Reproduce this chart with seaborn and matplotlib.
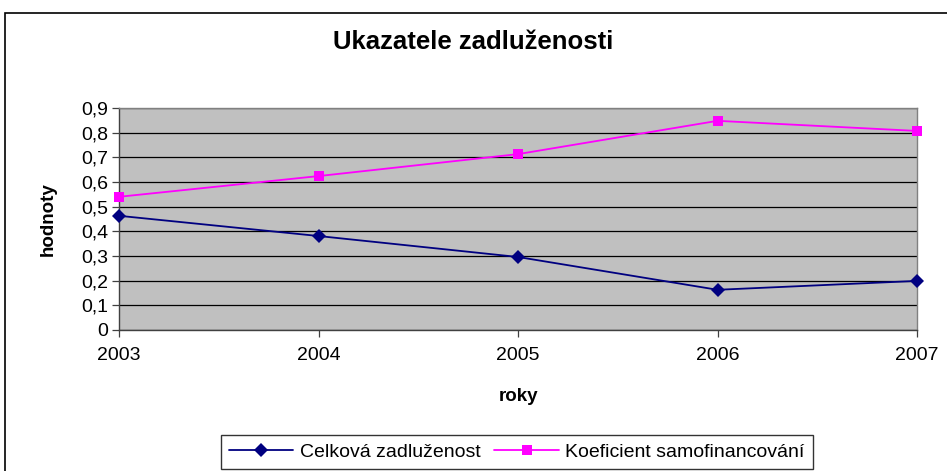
import matplotlib
matplotlib.use("Agg")
import matplotlib.pyplot as plt
import seaborn as sns
import pandas as pd
from matplotlib.patches import Rectangle
from matplotlib.ticker import FuncFormatter

roky = [2003, 2004, 2005, 2006, 2007]
celkova = [0.463, 0.381, 0.296, 0.163, 0.199]
koeficient = [0.540, 0.624, 0.713, 0.848, 0.807]
series_names = ["Celková zadluženost", "Koeficient samofinancování"]

df = pd.concat([
    pd.DataFrame({"rok": roky, "hodnota": celkova, "serie": series_names[0]}),
    pd.DataFrame({"rok": roky, "hodnota": koeficient, "serie": series_names[1]}),
])

sns.set_style("white", {"text.color": "black", "axes.labelcolor": "black",
                        "xtick.color": "black", "ytick.color": "black"})
plt.rcParams["font.family"] = ["Liberation Sans", "DejaVu Sans"]

fig = plt.figure(figsize=(9.47, 4.71), dpi=100)
ax = fig.add_axes([119 / 947, 1 - 330 / 471, (917 - 119) / 947, (330 - 108) / 471])

# outer chart border (Excel style, cut off right/bottom)
fig.patches.append(Rectangle((5 / 947, -0.05), 1.0, 1 - 13 / 471 + 0.05,
                             transform=fig.transFigure, fill=False,
                             edgecolor="black", lw=1.2, zorder=0))

ax.set_facecolor("#C0C0C0")
sns.lineplot(data=df, x="rok", y="hodnota", hue="serie", style="serie",
             palette={series_names[0]: "#000080", series_names[1]: "#FF00FF"},
             markers={series_names[0]: "D", series_names[1]: "s"},
             dashes=False, markersize=7, markeredgewidth=0, linewidth=1.3,
             ax=ax, legend=False, clip_on=False, zorder=3)

ax.set_xlim(2003, 2007)
ax.set_ylim(0, 0.9)
ax.set_xticks(roky)
ax.set_yticks([i / 10 for i in range(10)])
ax.yaxis.set_major_formatter(FuncFormatter(
    lambda v, p: "0" if abs(v) < 1e-9 else f"{v:.1f}".replace(".", ",")))
ax.grid(axis="y", color="black", lw=0.9)
ax.grid(axis="x", visible=False)
ax.set_axisbelow(True)

for s in ["top", "right"]:
    ax.spines[s].set_color("#808080")
    ax.spines[s].set_linewidth(1.0)
for s in ["left", "bottom"]:
    ax.spines[s].set_color("#404040")
    ax.spines[s].set_linewidth(1.0)

ax.tick_params(axis="both", direction="out", length=5, width=0.9,
               color="#404040", labelsize=14, bottom=True, left=True)
ax.tick_params(axis="x", pad=7)
ax.tick_params(axis="y", pad=3)

ax.set_xlabel("roky", fontsize=13.5, fontweight="bold")
ax.set_ylabel("hodnoty", fontsize=13.5, fontweight="bold")
ax.xaxis.set_label_coords(0.5, (330 - 388) / 222)
ax.yaxis.set_label_coords((57 - 119) / 798, 0.5)
fig.text(0.5, 1 - 42 / 471, "Ukazatele zadluženosti", ha="center", va="center",
         fontsize=18.5, fontweight="bold")

handles = [
    plt.Line2D([], [], color="#000080", marker="D", markersize=7, lw=1.3, markeredgewidth=0),
    plt.Line2D([], [], color="#FF00FF", marker="s", markersize=7, lw=1.3, markeredgewidth=0),
]
leg = fig.legend(handles, series_names, ncol=2, loc="center",
                 bbox_to_anchor=(517 / 947, 1 - 452 / 471), fontsize=14,
                 frameon=True, fancybox=False, edgecolor="black",
                 handlelength=3.3, columnspacing=0.7, handletextpad=0.35,
                 borderpad=0.4, borderaxespad=0)
leg.get_frame().set_linewidth(1.0)

fig.savefig("out.png", dpi=100)
